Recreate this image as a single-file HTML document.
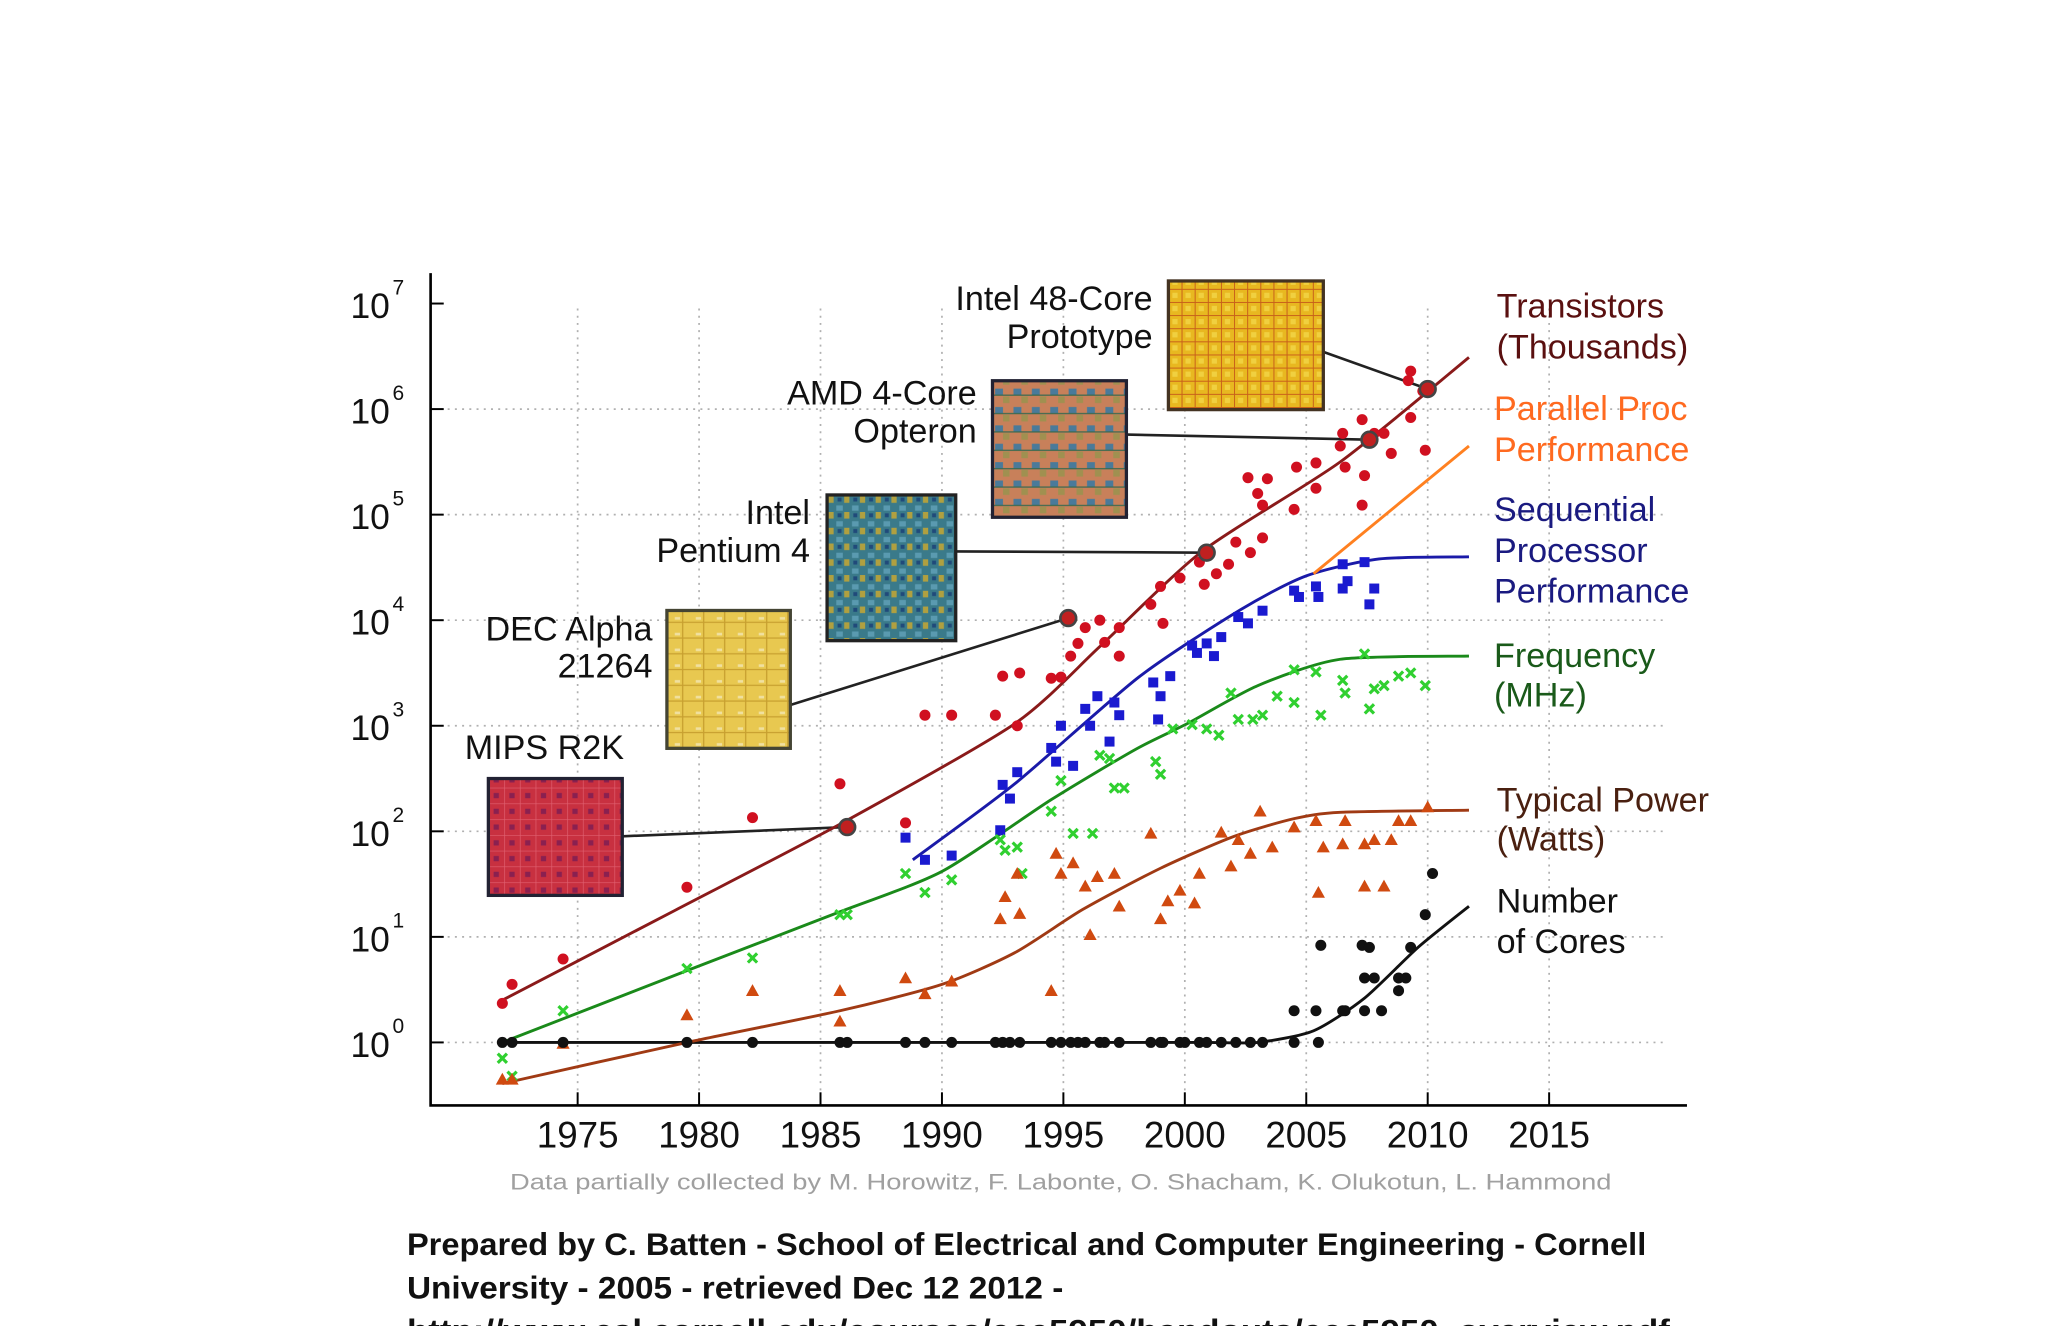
<!DOCTYPE html>
<html><head><meta charset="utf-8"><style>
html,body{margin:0;padding:0;background:#fff;}
svg{display:block;}
text{font-family:"Liberation Sans",sans-serif;}
</style></head><body>
<svg id="chart" width="2048" height="1326" viewBox="0 0 1560 1010" preserveAspectRatio="none" xmlns="http://www.w3.org/2000/svg">
<defs>
<pattern id="p48" width="10" height="10" patternUnits="userSpaceOnUse"><rect width="10" height="10" fill="#e8b820"/><path d="M0 0H10M0 0V10" stroke="#c8601a" stroke-width="1.5"/><rect x="3" y="3" width="4" height="4" fill="#f0d040"/></pattern>
<pattern id="pamd" width="14" height="14" patternUnits="userSpaceOnUse"><rect width="14" height="14" fill="#c8805a"/><rect x="2" y="2" width="6" height="5" fill="#4a7a9a"/><rect x="8" y="8" width="5" height="5" fill="#a09050"/><path d="M0 7H14" stroke="#3a6a50" stroke-width="1"/></pattern>
<pattern id="pp4" width="12" height="12" patternUnits="userSpaceOnUse"><rect width="12" height="12" fill="#3a7a8a"/><rect x="1" y="1" width="5" height="4" fill="#5a9ab0"/><rect x="7" y="6" width="4" height="5" fill="#b0a040"/><rect x="2" y="7" width="3" height="3" fill="#204a7a"/></pattern>
<pattern id="pdec" width="16" height="12" patternUnits="userSpaceOnUse"><rect width="16" height="12" fill="#e8c850"/><path d="M0 6H16M8 0V12" stroke="#c8a030" stroke-width="1"/><rect x="2" y="2" width="4" height="2" fill="#f0e0a0"/></pattern>
<pattern id="pmips" width="12" height="12" patternUnits="userSpaceOnUse"><rect width="12" height="12" fill="#c83040"/><path d="M0 0H12M0 0V12" stroke="#e06070" stroke-width="1"/><rect x="4" y="4" width="4" height="4" fill="#8a2050"/></pattern>
</defs>
<g id="grid"></g>
<g id="axes"></g>
<g id="chips"></g>
<g id="series"></g>
<g id="labels">
<text x="1140" y="242" font-size="26" fill="#5a1010">Transistors</text>
<text x="1140" y="273" font-size="26" fill="#5a1010">(Thousands)</text>
<text x="1138" y="320" font-size="26" fill="#ff6a20">Parallel Proc</text>
<text x="1138" y="351" font-size="26" fill="#ff6a20">Performance</text>
<text x="1138" y="397" font-size="26" fill="#1a1a80">Sequential</text>
<text x="1138" y="428" font-size="26" fill="#1a1a80">Processor</text>
<text x="1138" y="459" font-size="26" fill="#1a1a80">Performance</text>
<text x="1138" y="508" font-size="26" fill="#1a5a1a">Frequency</text>
<text x="1138" y="538" font-size="26" fill="#1a5a1a">(MHz)</text>
<text x="1140" y="618" font-size="26" fill="#4a2010">Typical Power</text>
<text x="1140" y="648" font-size="26" fill="#4a2010">(Watts)</text>
<text x="1140" y="695" font-size="26" fill="#111">Number</text>
<text x="1140" y="726" font-size="26" fill="#111">of Cores</text>
</g>
<text x="808" y="906" font-size="17" fill="#a0a0a0" text-anchor="middle" textLength="839" lengthAdjust="spacingAndGlyphs">Data partially collected by M. Horowitz, F. Labonte, O. Shacham, K. Olukotun, L. Hammond</text>
<g font-weight="bold" font-size="24" fill="#111">
<text x="310" y="956" textLength="944" lengthAdjust="spacingAndGlyphs">Prepared by C. Batten - School of Electrical and Computer Engineering - Cornell</text>
<text x="310" y="989" textLength="500" lengthAdjust="spacingAndGlyphs">University - 2005 - retrieved Dec 12 2012 -</text>
<text x="310" y="1022" textLength="962" lengthAdjust="spacingAndGlyphs">http://www.csl.cornell.edu/courses/ece5950/handouts/ece5950_overview.pdf</text>
</g>
</svg>
<script>
// ---- data (exponents are log10 of value) ----
const yearTicks = [1975,1980,1985,1990,1995,2000,2005,2010,2015];
const decadeTicks = [0,1,2,3,4,5,6,7];
const transYears = [1971.9,1972.3,1974.4,1979.5,1982.2,1985.8,1988.5,1989.3,1990.4,1992.2,1992.5,1993.2,1993.1,1994.5,1994.9,1995.3,1995.6,1995.9,1996.5,1996.7,1997.3,1997.3,1998.6,1999.0,1999.1,1999.8,2000.6,2000.8,2001.3,2001.8,2002.1,2002.7,2003.2,2002.6,2003.0,2003.2,2003.4,2004.5,2004.6,2005.4,2005.4,2006.5,2006.6,2006.4,2007.3,2007.4,2007.3,2007.8,2008.2,2008.5,2009.3,2009.2,2009.3,2009.8,2009.9];
const transExp = [0.37,0.55,0.79,1.47,2.13,2.45,2.08,3.10,3.10,3.10,3.47,3.50,3.00,3.45,3.46,3.66,3.78,3.93,4.00,3.79,3.93,3.66,4.15,4.32,3.97,4.40,4.55,4.34,4.44,4.53,4.74,4.64,4.78,5.35,5.20,5.09,5.34,5.05,5.45,5.49,5.25,5.77,5.45,5.65,5.90,5.37,5.09,5.77,5.77,5.58,5.92,6.27,6.36,6.17,5.61];
const transTrendYears = [1971.9,1979.0,1985.9,1993.0,1996.5,2000.7,2006.4,2011.7];
const transTrendExp = [0.40,1.25,2.08,3.02,3.75,4.65,5.50,6.49];
const seqYears = [1988.5,1989.3,1990.4,1992.4,1992.5,1992.8,1993.1,1994.5,1994.9,1994.7,1995.4,1995.9,1996.1,1996.4,1997.1,1997.3,1996.9,1998.7,1999.0,1998.9,1999.4,2000.3,2000.5,2000.9,2001.2,2001.5,2002.2,2002.6,2003.2,2004.5,2004.7,2005.4,2005.5,2006.5,2006.5,2006.7,2007.4,2007.6,2007.8];
const seqExp = [1.94,1.73,1.77,2.01,2.44,2.31,2.56,2.79,3.00,2.66,2.62,3.16,3.00,3.28,3.22,3.10,2.85,3.41,3.28,3.06,3.47,3.76,3.69,3.78,3.66,3.84,4.03,3.97,4.09,4.28,4.22,4.32,4.22,4.30,4.53,4.37,4.55,4.15,4.30];
const seqTrendYears = [1988.8,1993.0,1998.1,2002.3,2005.0,2008.0,2011.7];
const seqTrendExp = [1.73,2.45,3.46,4.10,4.42,4.58,4.60];
const parTrendYears = [2005.3,2011.7];
const parTrendExp = [4.44,5.65];
const freqYears = [1971.9,1972.3,1974.4,1979.5,1982.2,1985.8,1986.1,1988.5,1989.3,1990.4,1992.4,1992.6,1993.1,1993.3,1994.5,1994.9,1995.4,1996.2,1996.5,1996.9,1997.1,1997.5,1998.8,1999.0,1999.5,2000.3,2000.9,2001.4,2001.9,2002.2,2002.8,2003.2,2003.8,2004.5,2004.5,2005.4,2005.6,2006.5,2006.6,2007.4,2007.6,2007.8,2008.2,2008.8,2009.3,2009.9];
const freqExp = [-0.15,-0.32,0.30,0.70,0.80,1.21,1.21,1.60,1.42,1.54,1.92,1.82,1.85,1.60,2.19,2.48,1.98,1.98,2.72,2.69,2.41,2.41,2.66,2.54,2.97,3.01,2.97,2.91,3.31,3.06,3.06,3.10,3.28,3.53,3.22,3.51,3.10,3.43,3.31,3.68,3.16,3.35,3.38,3.47,3.50,3.38];
const freqTrendYears = [1971.9,1979.5,1985.6,1990.0,1994.5,1998.0,2000.1,2003.0,2006.4,2011.7];
const freqTrendExp = [0.00,0.68,1.22,1.62,2.30,2.78,3.02,3.38,3.63,3.66];
const powYears = [1971.9,1972.3,1974.4,1979.5,1982.2,1985.8,1985.8,1988.5,1989.3,1990.4,1992.4,1993.2,1992.6,1993.1,1994.5,1994.7,1994.9,1995.4,1995.9,1996.1,1996.4,1997.1,1997.3,1998.6,1999.0,1999.3,1999.8,2000.4,2000.6,2001.5,2001.9,2002.2,2002.7,2003.1,2003.6,2004.5,2005.4,2005.5,2005.7,2006.5,2006.6,2007.4,2007.4,2007.8,2008.2,2008.5,2008.8,2009.3,2010.0];
const powExp = [-0.35,-0.35,-0.01,0.26,0.49,0.49,0.20,0.61,0.46,0.58,1.17,1.22,1.38,1.60,0.49,1.79,1.60,1.70,1.48,1.02,1.57,1.60,1.29,1.98,1.17,1.34,1.44,1.32,1.60,1.99,1.67,1.92,1.79,2.19,1.85,2.04,2.10,1.42,1.85,1.88,2.10,1.88,1.48,1.92,1.48,1.92,2.10,2.10,2.23];
const powTrendYears = [1971.9,1979.5,1985.8,1990.0,1993.0,1995.8,1999.0,2002.0,2004.5,2006.4,2011.7];
const powTrendExp = [-0.39,0.0,0.30,0.55,0.85,1.26,1.65,1.95,2.12,2.18,2.20];
const coreYears = [1971.9,1972.3,1974.4,1979.5,1982.2,1985.8,1986.1,1988.5,1989.3,1990.4,1992.2,1992.5,1992.8,1993.2,1994.5,1994.9,1995.3,1995.6,1995.9,1996.5,1996.7,1997.3,1998.6,1999.0,1999.1,1999.8,2000.0,2000.6,2000.9,2001.5,2002.1,2002.7,2003.2,2004.5,2005.4,2004.5,2005.5,2005.6,2006.5,2006.6,2007.4,2007.8,2007.3,2007.6,2007.4,2008.1,2008.8,2008.8,2009.1,2009.3,2009.9,2010.2];
const coreExp = [0,0,0,0,0,0,0,0,0,0,0,0,0,0,0,0,0,0,0,0,0,0,0,0,0,0,0,0,0,0,0,0,0,0.30,0.30,0,0,0.92,0.30,0.30,0.61,0.61,0.92,0.90,0.30,0.30,0.61,0.49,0.61,0.90,1.21,1.60];
const coreTrendYears = [1971.9,1980.0,1990.0,1998.0,2001.0,2003.0,2005.3,2007.4,2009.6,2011.7];
const coreTrendExp = [0,0,0,0,0,0,0.11,0.42,0.90,1.29];
const chipNames = ["MIPS R2K","DEC Alpha 21264","Intel Pentium 4","AMD 4-Core Opteron","Intel 48-Core Prototype"];
const chipYears = [1986.1,1995.2,2000.9,2007.6,2010.0];
const chipExp = [2.04,4.02,4.64,5.71,6.19];

// ---- scales ----
const NS="http://www.w3.org/2000/svg";
function X(y){return 347.5+(y-1970)*18.5;}
function Y(e){return 794-e*80.4;}
function mk(tag,attrs,parent){const el=document.createElementNS(NS,tag);for(const k in attrs)el.setAttribute(k,attrs[k]);parent.appendChild(el);return el;}
const grid=document.getElementById('grid'),axes=document.getElementById('axes'),series=document.getElementById('series'),chips=document.getElementById('chips');

yearTicks.forEach(t=>{
  const l=mk('line',{x1:X(t),x2:X(t),y1:235,y2:832,stroke:'#b0b0b0','stroke-width':1.3,'stroke-dasharray':'1.5 4'},grid);
  
  
  const tk=mk('line',{x1:X(t),x2:X(t),y1:842,y2:832,stroke:'#000','stroke-width':1.5},axes);
  
  
  const tx=mk('text',{x:X(t),y:874,'font-size':28,'text-anchor':'middle',fill:'#111'},axes);
  tx.textContent=t;
  
  
});
decadeTicks.forEach(d=>{
  if(d<7){const l=mk('line',{x1:330,x2:1270,y1:Y(d),y2:Y(d),stroke:'#b0b0b0','stroke-width':1.3,'stroke-dasharray':'1.5 4'},grid);
  
  }
  const tk=mk('line',{x1:328,x2:338,y1:Y(d),y2:Y(d),stroke:'#000','stroke-width':1.5},axes);
  
  
  const tx=mk('text',{x:297,y:Y(d)+11,'font-size':27,'text-anchor':'end',fill:'#111'},axes);
  tx.textContent='10';
  
  
  const sp=mk('text',{x:299,y:Y(d)-7,'font-size':16,fill:'#111'},axes);
  sp.textContent=String(d);
  
  
});
const ax=mk('path',{d:'M328 208V842H1285',fill:'none',stroke:'#000','stroke-width':2},axes);



function spline(xs,es){
  const p=xs.map((x,i)=>[X(x),Y(es[i])]);
  if(p.length<3)return 'M'+p.map(q=>q.join(' ')).join('L');
  let d='M'+p[0][0]+' '+p[0][1];
  for(let i=0;i<p.length-1;i++){
    const p0=p[i-1]||p[i],p1=p[i],p2=p[i+1],p3=p[i+2]||p2;
    const k=0.12;
    const c1=[p1[0]+(p2[0]-p0[0])*k,p1[1]+(p2[1]-p0[1])*k];
    const c2=[p2[0]-(p3[0]-p1[0])*k,p2[1]-(p3[1]-p1[1])*k];
    d+='C'+c1.join(' ')+' '+c2.join(' ')+' '+p2.join(' ');
  }
  return d;
}
function trend(xs,es,color,name){
  const el=mk('path',{d:spline(xs,es),fill:'none',stroke:color,'stroke-width':2.2,'stroke-linejoin':'round'},series);
  
  
}
function dots(xs,es,color,name){xs.forEach((x,i)=>{
  const el=mk('circle',{cx:X(x),cy:Y(es[i]),r:4.2,fill:color},series);
  
  });}
function squares(xs,es,color,name){xs.forEach((x,i)=>{
  const el=mk('rect',{x:X(x)-3.8,y:Y(es[i])-3.8,width:7.6,height:7.6,fill:color},series);
  
  });}
function crosses(xs,es,color,name){xs.forEach((x,i)=>{
  const cx=X(x),cy=Y(es[i]);
  const el=mk('path',{d:`M${cx-3.5} ${cy-3.5}L${cx+3.5} ${cy+3.5}M${cx+3.5} ${cy-3.5}L${cx-3.5} ${cy+3.5}`,stroke:color,'stroke-width':2.4},series);
  
  });}
function tris(xs,es,color,name){xs.forEach((x,i)=>{
  const cx=X(x),cy=Y(es[i]);
  const el=mk('path',{d:`M${cx} ${cy-5}L${cx+5} ${cy+4}L${cx-5} ${cy+4}Z`,fill:color},series);
  
  });}

// chip annotations
const boxes=[[372,593,102,89,'pmips','#223'],[508,465,94,105,'pdec','#443'],[630,377,98,111,'pp4','#222'],[756,290,102,104,'pamd','#223'],[890,214,118,98,'p48','#432']];
const anchors=[[474,637],[602,537],[728,420],[858,331],[1008,268]];
const labs=[[[354,578,'start','MIPS R2K']],[[497,488,'end','DEC Alpha'],[497,516,'end','21264']],[[617,399,'end','Intel'],[617,428,'end','Pentium 4']],[[744,308,'end','AMD 4-Core'],[744,337,'end','Opteron']],[[878,236,'end','Intel 48-Core'],[878,265,'end','Prototype']]];
chipNames.forEach((n,i)=>{
  const b=boxes[i];
  const g=mk('g',{},chips);
  
  
  const ln=mk('line',{x1:anchors[i][0],y1:anchors[i][1],x2:X(chipYears[i]),y2:Y(chipExp[i]),stroke:'#222','stroke-width':2},g);
  
  
  const r=mk('rect',{x:b[0],y:b[1],width:b[2],height:b[3],fill:'url(#'+b[4]+')',stroke:b[5],'stroke-width':2.5},g);
  
  
  labs[i].forEach(l=>{const t=mk('text',{x:l[0],y:l[1],'text-anchor':l[2],'font-size':26,fill:'#111'},g);t.textContent=l[3];
    
    });
});

trend(coreTrendYears,coreTrendExp,'#111','cores-trend');
trend(powTrendYears,powTrendExp,'#a03a14','power-trend');
trend(freqTrendYears,freqTrendExp,'#1a8a1a','frequency-trend');
trend(seqTrendYears,seqTrendExp,'#1a1aa8','sequential-trend');
trend(parTrendYears,parTrendExp,'#ff8020','parallel-trend');
trend(transTrendYears,transTrendExp,'#8a1a1a','transistors-trend');
dots(transYears,transExp,'#d01020','transistor-point');
squares(seqYears,seqExp,'#1a1ad0','sequential-point');
crosses(freqYears,freqExp,'#30d030','frequency-point');
tris(powYears,powExp,'#d04a10','power-point');
dots(coreYears,coreExp,'#111','cores-point');
chipYears.forEach((y,i)=>{
  const c=mk('circle',{cx:X(y),cy:Y(chipExp[i]),r:6,fill:'#c02020',stroke:'#444','stroke-width':2},series);
  
  
});
</script>
</body></html>
